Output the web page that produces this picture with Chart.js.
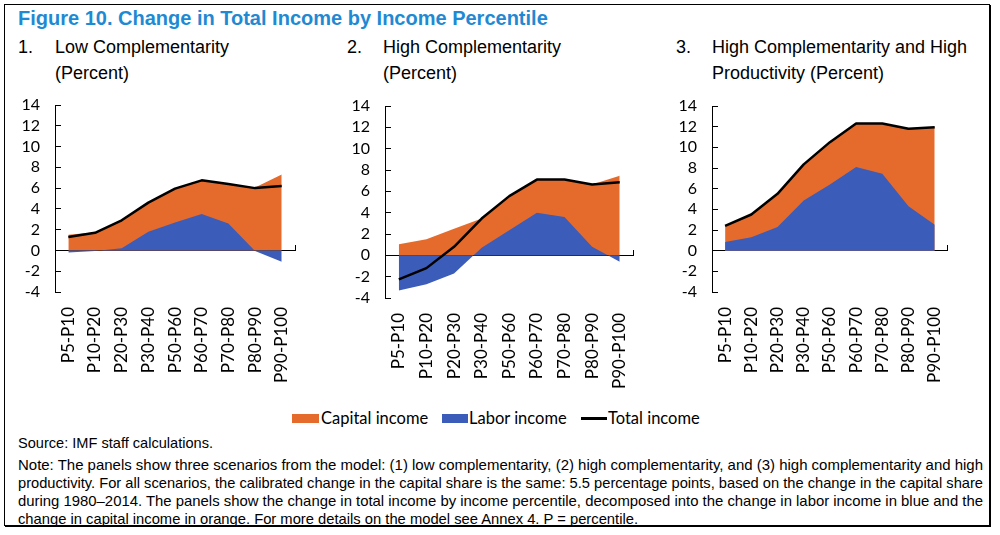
<!DOCTYPE html>
<html><head><meta charset="utf-8">
<script src="https://cdn.jsdelivr.net/npm/chart.js@4.4.1/dist/chart.umd.min.js"></script>
<style>
body{margin:0;width:1000px;height:535px;background:#fff;position:relative;overflow:hidden;font-family:"Liberation Sans",Arial,sans-serif;color:#000;}
.frame{position:absolute;left:4px;top:4px;width:984px;height:520px;border:1px solid #000;box-shadow:1px 1px 0 #000;}
.title{position:absolute;left:18px;top:5px;font-weight:bold;font-size:20px;line-height:26px;color:#1F8AD3;white-space:nowrap;}
.sub{position:absolute;font-size:18px;line-height:26px;white-space:nowrap;}
canvas{position:absolute;}
.sw{position:absolute;}
.lt{position:absolute;font-family:Lato,sans-serif;font-size:16.5px;line-height:20px;top:408px;white-space:nowrap;}
.note{position:absolute;left:18px;font-family:"Liberation Sans Narrow","Liberation Sans",Arial,sans-serif;font-size:15px;line-height:18px;white-space:nowrap;transform-origin:0 50%;}
</style></head>
<body>
<div class="frame"></div>
<div class="title">Figure 10. Change in Total Income by Income Percentile</div>
<div class="sub" style="left:18px;top:34px">1.</div>
<div class="sub" style="left:55px;top:34px">Low Complementarity<br>(Percent)</div>
<div class="sub" style="left:347px;top:34px">2.</div>
<div class="sub" style="left:383px;top:34px">High Complementarity<br>(Percent)</div>
<div class="sub" style="left:676px;top:34px">3.</div>
<div class="sub" style="left:712px;top:34px">High Complementarity and High<br>Productivity (Percent)</div>
<canvas id="c1"></canvas>
<canvas id="c2"></canvas>
<canvas id="c3"></canvas>
<div class="sw" style="left:292px;top:414px;width:27px;height:9px;background:#E56B2C"></div>
<div class="lt" style="left:321px">Capital income</div>
<div class="sw" style="left:442px;top:414px;width:26px;height:9px;background:#3B5CB8"></div>
<div class="lt" style="left:469px">Labor income</div>
<div class="sw" style="left:581px;top:417px;width:26px;height:3px;background:#000"></div>
<div class="lt" style="left:608px">Total income</div>
<div class="note" style="top:434px" data-w="195">Source: IMF staff calculations.</div>
<div class="note" style="top:456px" data-w="965">Note: The panels show three scenarios from the model: (1) low complementarity, (2) high complementarity, and (3) high complementarity and high</div>
<div class="note" style="top:474px" data-w="965">productivity. For all scenarios, the calibrated change in the capital share is the same: 5.5 percentage points, based on the change in the capital share</div>
<div class="note" style="top:492px" data-w="965">during 1980–2014. The panels show the change in total income by income percentile, decomposed into the change in labor income in blue and the</div>
<div class="note" style="top:510px" data-w="620">change in capital income in orange. For more details on the model see Annex 4. P = percentile.</div>
<script>
const categories = ['P5-P10','P10-P20','P20-P30','P30-P40','P50-P60','P60-P70','P70-P80','P80-P90','P90-P100'];
const lowLabor    = [-0.2, -0.05, 0.2, 1.8, 2.7, 3.5, 2.6, -0.05, -1.1];
const lowCapital  = [1.5, 1.75, 2.7, 2.8, 3.25, 3.25, 3.8, 6.05, 7.3];
const lowTotal    = [1.3, 1.7, 2.9, 4.6, 5.95, 6.75, 6.4, 6.0, 6.2];
const highLabor   = [-3.3, -2.7, -1.7, 0.7, 2.35, 4.0, 3.6, 0.8, -0.6];
const highCapital = [1.05, 1.5, 2.5, 2.75, 3.2, 3.1, 3.5, 5.85, 7.45];
const highTotal   = [-2.25, -1.2, 0.8, 3.45, 5.55, 7.1, 7.1, 6.65, 6.85];
const prodLabor   = [0.85, 1.3, 2.3, 4.85, 6.4, 8.1, 7.45, 4.3, 2.5];
const prodCapital = [1.55, 2.2, 3.2, 3.5, 4.1, 4.2, 4.85, 7.5, 9.45];
const prodTotal   = [2.4, 3.5, 5.5, 8.35, 10.5, 12.3, 12.3, 11.8, 11.95];
const yMin = -4, yMax = 14, yStep = 2;

const ORANGE = '#E56B2C', BLUE = '#3B5CB8';

function makePanel(id, geom, labor, capital, total) {
  // y tick padding (21) + half label height (8) sets the top inset of the plot area
  const padTop = 29, yW = 45, xH = 100, padR = 16;
  const canvas = document.getElementById(id);
  const left = geom.left - yW, top = geom.top - padTop;
  canvas.style.left = left + 'px';
  canvas.style.top = top + 'px';
  canvas.width = Math.round(geom.right + padR - left);
  canvas.height = Math.round(geom.bottom + xH - top);
  new Chart(canvas, {
    type: 'line',
    data: {
      labels: categories,
      datasets: [
        {label: 'Total income', data: total, stack: 'total', borderColor: '#000', borderWidth: 2.5,
         borderJoinStyle: 'round', fill: false, pointRadius: 0, order: 0},
        {label: 'Labor income', data: labor, stack: 'income', backgroundColor: BLUE, borderColor: BLUE,
         borderWidth: 0, fill: 'origin', pointRadius: 0, order: 1},
        {label: 'Capital income', data: capital, stack: 'income', backgroundColor: ORANGE, borderColor: ORANGE,
         borderWidth: 0, fill: 'origin', pointRadius: 0, order: 2}
      ]
    },
    options: {
      responsive: false, animation: false, devicePixelRatio: 1,
      layout: {padding: {top: padTop, right: padR, bottom: 0, left: 0}},
      plugins: {legend: {display: false}, tooltip: {enabled: false}},
      scales: {
        x: {type: 'category', position: 'bottom', offset: true,
            grid: {display: false, drawTicks: false}, border: {display: false},
            ticks: {autoSkip: false, maxRotation: 90, minRotation: 90, padding: 15, color: '#000',
                    font: {family: 'Lato', size: 17}},
            afterFit(s) { s.height = xH; }},
        xz: {type: 'category', position: {y: 0}, offset: true,
             grid: {offset: true, drawOnChartArea: false, drawTicks: true, tickLength: -6, color: '#000', lineWidth: 1},
             border: {display: true, color: '#000', width: 1},
             ticks: {display: false},
             afterFit(s) { s.height = 0; }},
        y: {type: 'linear', stacked: true, min: yMin, max: yMax,
            ticks: {stepSize: yStep, autoSkip: false, padding: 21, color: '#000',
                    font: {family: 'Lato', size: 16, lineHeight: 1}},
            grid: {drawOnChartArea: false, drawTicks: true, tickLength: -6, color: '#000', lineWidth: 1},
            border: {display: true, color: '#000', width: 1},
            afterFit(s) { s.width = yW; }}
      }
    }
  });
}

makePanel('c1', {left: 55, top: 105, right: 302, bottom: 292}, lowLabor, lowCapital, lowTotal);
makePanel('c2', {left: 385, top: 106, right: 640, bottom: 298}, highLabor, highCapital, highTotal);
makePanel('c3', {left: 712, top: 106, right: 955, bottom: 292}, prodLabor, prodCapital, prodTotal);

function fit() {
  document.querySelectorAll('[data-w]').forEach(el => {
    el.style.transform = 'none';
    const w = el.getBoundingClientRect().width;
    if (w > 0) el.style.transform = 'scaleX(' + (+el.dataset.w / w) + ')';
  });
}
fit();
if (document.fonts && document.fonts.ready) document.fonts.ready.then(fit);
</script>
</body></html>
